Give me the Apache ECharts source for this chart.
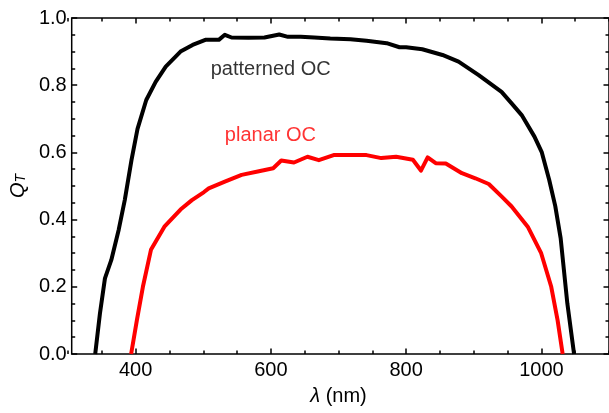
<!DOCTYPE html>
<html><head><meta charset="utf-8">
<script src="https://cdn.jsdelivr.net/npm/echarts@6/dist/echarts.min.js"></script>
<style>html,body{margin:0;padding:0;background:#fff}#c{width:609px;height:413px}</style>
</head><body><div id="c"></div>
<script>
// Wavelength (nm) and Q_T for the patterned OC curve
const patternedLambda = [335,342,349.5,359,370,379,389,398,411,425,440,462,480,499,519,528,538,563,587,609,622,641,661,685,715,739,769,788,798,822,852,876,906,940,955,970,989,1000,1011,1020,1028,1038,1048];
const patternedQ      = [0,0.12,0.225,0.28,0.37,0.458,0.577,0.67,0.756,0.81,0.855,0.9,0.92,0.935,0.935,0.95,0.942,0.941,0.942,0.951,0.944,0.944,0.942,0.939,0.937,0.932,0.925,0.913,0.913,0.907,0.89,0.87,0.83,0.78,0.746,0.711,0.647,0.6,0.518,0.44,0.345,0.15,0];
// Wavelength (nm) and Q_T for the planar OC curve
const planarLambda = [388.5,397,406,418,438,462,479,497,504,528,553,577,600,612,631,651,668,690,720,739,761,783,808,820,830,842,857,881,901,921,940,955,979,999,1014,1023.5,1031];
const planarQ      = [0,0.1,0.2,0.31,0.379,0.43,0.458,0.482,0.493,0.513,0.533,0.543,0.553,0.576,0.57,0.587,0.577,0.592,0.592,0.592,0.583,0.587,0.578,0.546,0.585,0.568,0.567,0.538,0.523,0.506,0.469,0.439,0.379,0.30,0.2,0.1,0];
const xMajorTicks = [400, 600, 800, 1000];
const curveLabels = [
  { text: 'patterned OC', lambda: 507, q: 0.846, color: '#000000' },
  { text: 'planar OC', lambda: 528, q: 0.649, color: '#ff0000' }
];

const pair = (xs, ys) => xs.map((x, i) => [x, ys[i]]);
const font = 'Arial, "Liberation Sans", sans-serif';
const line = { color: '#000', width: 1.5 };
const gridBox = { left: 68, top: 18, width: 544, height: 336 };

// grid 0: plotting axes (x hidden)
const plotX = { gridIndex: 0, type: 'value', min: 300, max: 1100, interval: 100, show: false };
// grid 1: major ticks every 200 nm and labels
const majorX = (pos, labels) => ({
  gridIndex: 1, type: 'value', position: pos, min: 300, max: 1100, interval: 100,
  axisLine: { show: false, onZero: false },
  axisTick: { show: true, inside: true, length: 5.5, lineStyle: line, customValues: xMajorTicks },
  axisLabel: labels ? { show: true, customValues: xMajorTicks, margin: 6, fontSize: 20, color: '#000', fontFamily: font, formatter: v => String(v) } : { show: false },
  splitLine: { show: false },
  name: labels ? '{i|λ} (nm)' : '',
  nameLocation: 'middle', nameGap: 32,
  nameTextStyle: { fontSize: 20, color: '#000', fontFamily: font, rich: { i: { fontSize: 20, fontStyle: 'italic', fontFamily: font, color: '#000' } } }
});
// grid 2: minor ticks every 50 nm
const minorX = (pos) => ({
  gridIndex: 2, type: 'value', position: pos, min: 300, max: 1100, interval: 100,
  axisLine: { show: false, onZero: false },
  axisTick: { show: true, inside: true, length: 3.5, lineStyle: line },
  minorTick: { show: true, splitNumber: 2, length: 3.5, lineStyle: line },
  axisLabel: { show: false }, splitLine: { show: false }
});
const yAx = (pos, labels) => ({
  gridIndex: 0, type: 'value', position: pos, min: 0, max: 1, interval: 0.2,
  axisLine: { show: false, onZero: false },
  axisTick: { show: true, inside: true, length: 5.5, lineStyle: line },
  minorTick: { show: true, splitNumber: 4, length: 3.5, lineStyle: line },
  axisLabel: labels ? { show: true, margin: 5, fontSize: 20, color: '#000', fontFamily: font, formatter: v => v.toFixed(1) } : { show: false },
  splitLine: { show: false },
  name: labels ? '{q|Q}{t|T}' : '',
  nameLocation: 'middle', nameGap: 36,
  nameTextStyle: { color: '#000', fontFamily: font, rich: {
    q: { fontSize: 20, fontStyle: 'italic', fontFamily: font, color: '#000', verticalAlign: 'bottom', lineHeight: 26 },
    t: { fontSize: 14, fontStyle: 'italic', fontFamily: font, color: '#000', verticalAlign: 'bottom', lineHeight: 16 } } }
});
const hiddenY = (g) => ({ gridIndex: g, type: 'value', min: 0, max: 1, show: false });

const chart = echarts.init(document.getElementById('c'), null, { renderer: 'canvas' });
chart.setOption({
  animation: false,
  backgroundColor: '#fff',
  grid: [
    Object.assign({ show: true, borderColor: '#000', borderWidth: 1.5, backgroundColor: 'transparent' }, gridBox),
    Object.assign({}, gridBox),
    Object.assign({}, gridBox)
  ],
  xAxis: [plotX, majorX('bottom', true), majorX('top', false), minorX('bottom'), minorX('top')],
  yAxis: [yAx('left', true), yAx('right', false), hiddenY(1), hiddenY(2)],
  series: [
    { type: 'line', xAxisIndex: 0, yAxisIndex: 0, data: pair(patternedLambda, patternedQ), showSymbol: false, symbol: 'none',
      lineStyle: { color: '#000', width: 4, join: 'round' }, z: 3 },
    { type: 'line', xAxisIndex: 0, yAxisIndex: 0, data: pair(planarLambda, planarQ), showSymbol: false, symbol: 'none',
      lineStyle: { color: '#ff0000', width: 4, join: 'round' }, z: 2 },
    { type: 'scatter', xAxisIndex: 0, yAxisIndex: 0, symbolSize: 0, silent: true,
      data: curveLabels.map(l => ({ value: [l.lambda, l.q], label: { show: true, position: 'right', distance: 0, formatter: l.text, color: l.color, fontSize: 20, fontFamily: font } })) }
  ]
});
</script></body></html>
